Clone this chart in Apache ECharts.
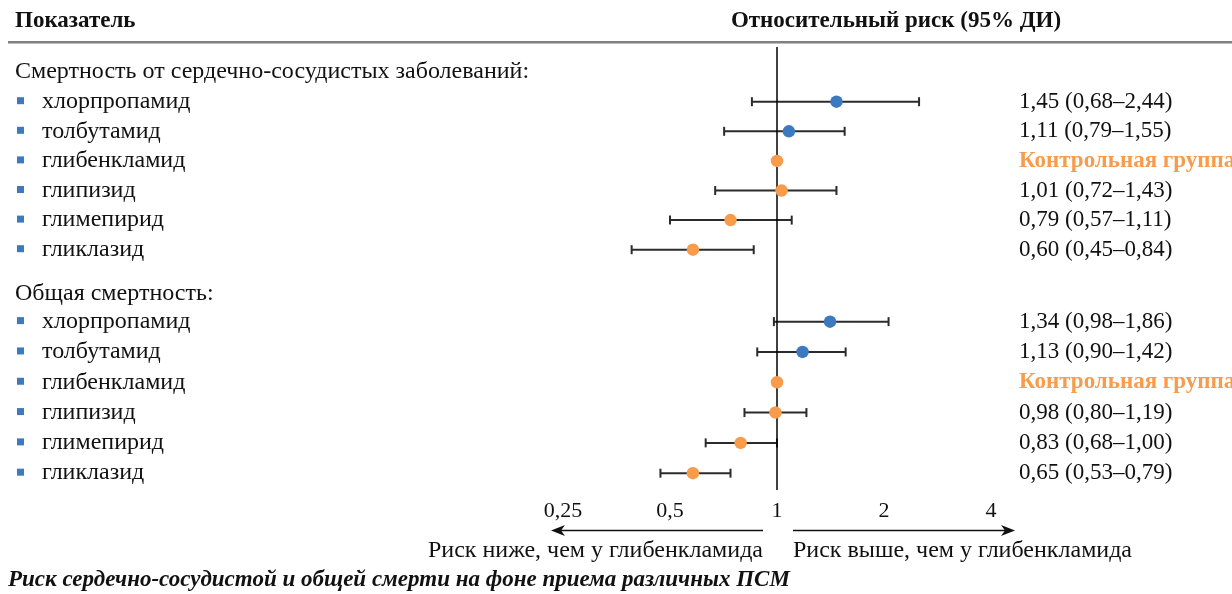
<!DOCTYPE html>
<html>
<head>
<meta charset="utf-8">
<script src="https://cdn.jsdelivr.net/npm/echarts@6/dist/echarts.min.js"></script>
<style>
  html, body { margin: 0; padding: 0; background: #ffffff; }
  #chart { width: 1232px; height: 594px; }
</style>
</head>
<body>
<div id="chart"></div>
<script>
// ---------- data ----------
const groupTitles = ['Смертность от сердечно-сосудистых заболеваний:', 'Общая смертность:'];
const drugs = ['хлорпропамид', 'толбутамид', 'глибенкламид', 'глипизид', 'глимепирид', 'гликлазид'];
const drugKind = ['old', 'old', 'ref', 'new', 'new', 'new'];

// values as plotted in the picture
const cvRR   = [1.47, 1.08, 1.00, 1.03, 0.74, 0.58];
const cvLow  = [0.85, 0.71, null, 0.67, 0.50, 0.39];
const cvHigh = [2.51, 1.55, null, 1.47, 1.10, 0.86];
const cvLabels = ['1,45 (0,68–2,44)', '1,11 (0,79–1,55)', 'Контрольная группа', '1,01 (0,72–1,43)', '0,79 (0,57–1,11)', '0,60 (0,45–0,84)'];

const allRR   = [1.41, 1.18, 1.00, 0.99, 0.79, 0.58];
const allLow  = [0.98, 0.88, null, 0.81, 0.63, 0.47];
const allHigh = [2.06, 1.56, null, 1.21, 1.00, 0.74];
const allLabels = ['1,34 (0,98–1,86)', '1,13 (0,90–1,42)', 'Контрольная группа', '0,98 (0,80–1,19)', '0,83 (0,68–1,00)', '0,65 (0,53–0,79)'];

const xTicks = [0.25, 0.5, 1, 2, 4];

// ---------- layout helpers ----------
const FONT = '"Liberation Serif", "DejaVu Serif", serif';
const BLUE = '#3C79BF';
const ORANGE = '#F89B4B';
const GROUP2_START = 7.43;
const GROUP2_STEP = 1.024;

function rowY(g, i) { return g === 0 ? i : GROUP2_START + i * GROUP2_STEP; }
function headerY(g) { return g === 0 ? -1.02 : GROUP2_START - 0.94; }

const groupsData = [
  { rr: cvRR, lo: cvLow, hi: cvHigh, lab: cvLabels },
  { rr: allRR, lo: allLow, hi: allHigh, lab: allLabels }
];

const dots = [], cis = [], rowsText = [], headers = [];
groupsData.forEach((gd, g) => {
  headers.push([1, headerY(g), groupTitles[g]]);
  drugs.forEach((d, i) => {
    const y = rowY(g, i);
    const col = drugKind[i] === 'old' ? BLUE : ORANGE;
    dots.push({ value: [gd.rr[i], y], itemStyle: { color: col, opacity: 1 } });
    if (gd.lo[i] != null) cis.push([gd.lo[i], gd.hi[i], y]);
    rowsText.push([1, y, d, gd.lab[i], drugKind[i] === 'ref' ? 1 : 0]);
  });
});

const chart = echarts.init(document.getElementById('chart'), null, { renderer: 'canvas' });

const option = {
  animation: false,
  backgroundColor: '#ffffff',
  grid: { left: 563, right: 241, top: 47, bottom: 104, containLabel: false },
  xAxis: {
    type: 'log', logBase: 2, min: xTicks[0], max: xTicks[xTicks.length - 1],
    splitNumber: 4,
    axisLine: { show: false }, axisTick: { show: false }, splitLine: { show: false },
    axisLabel: {
      show: true, margin: 10, fontFamily: FONT, fontSize: 22, color: '#111',
      formatter: v => String(+v.toFixed(4)).replace('.', ',')
    }
  },
  yAxis: {
    type: 'value', inverse: true, min: -1.848, max: 13.118, show: false
  },
  series: [
    {
      type: 'custom', name: 'ci', z: 3, clip: false,
      data: cis,
      renderItem: (params, api) => {
        const p1 = api.coord([api.value(0), api.value(2)]);
        const p2 = api.coord([api.value(1), api.value(2)]);
        const h = 4.5;
        const st = { stroke: '#2b2b2b', lineWidth: 2 };
        return {
          type: 'group',
          children: [
            { type: 'line', shape: { x1: p1[0], y1: p1[1], x2: p2[0], y2: p2[1] }, style: st },
            { type: 'line', shape: { x1: p1[0], y1: p1[1] - h, x2: p1[0], y2: p1[1] + h }, style: st },
            { type: 'line', shape: { x1: p2[0], y1: p2[1] - h, x2: p2[0], y2: p2[1] + h }, style: st }
          ]
        };
      }
    },
    {
      type: 'scatter', name: 'rr', z: 5,
      symbol: 'circle', symbolSize: 12.5,
      itemStyle: { opacity: 1 },
      data: dots,
      markLine: {
        silent: true, symbol: ['none', 'none'], animation: false,
        label: { show: false },
        lineStyle: { color: '#000', width: 1.5, type: 'solid' },
        data: [{ xAxis: 1 }]
      }
    },
    {
      type: 'custom', name: 'rowtext', z: 4, clip: false,
      data: rowsText,
      renderItem: (params, api) => {
        const p = api.coord([api.value(0), api.value(1)]);
        const y = p[1];
        const isRef = api.value(4) === 1;
        const row = rowsText[params.dataIndex];
        return {
          type: 'group',
          children: [
            { type: 'rect', shape: { x: 17, y: y - 4.5, width: 7, height: 7 }, style: { fill: BLUE } },
            { type: 'text', x: 42, y: y, style: { text: row[2], font: '24px ' + FONT, fill: '#111', textVerticalAlign: 'middle', textAlign: 'left' } },
            { type: 'text', x: 1019, y: y, style: {
                text: row[3],
                font: (isRef ? 'bold ' : '') + '23px ' + FONT,
                fill: isRef ? ORANGE : '#111', textVerticalAlign: 'middle', textAlign: 'left' } }
          ]
        };
      }
    },
    {
      type: 'custom', name: 'headers', z: 4, clip: false,
      data: headers,
      renderItem: (params, api) => {
        const p = api.coord([api.value(0), api.value(1)]);
        return {
          type: 'text', x: 15, y: p[1],
          style: { text: headers[params.dataIndex][2], font: '24px ' + FONT, fill: '#111', textVerticalAlign: 'middle', textAlign: 'left' }
        };
      }
    }
  ],
  graphic: [
    { type: 'text', x: 15, y: 21, style: { text: 'Показатель', font: 'bold 23px ' + FONT, fill: '#111', textAlign: 'left', textVerticalAlign: 'middle' } },
    { type: 'text', x: 896, y: 21, style: { text: 'Относительный риск (95% ДИ)', font: 'bold 23px ' + FONT, fill: '#111', textAlign: 'center', textVerticalAlign: 'middle' } },
    { type: 'line', shape: { x1: 8, y1: 42.3, x2: 1232, y2: 42.3 }, style: { stroke: '#808080', lineWidth: 2.5 } },
    // arrows
    { type: 'line', shape: { x1: 556, y1: 530.5, x2: 763, y2: 530.5 }, style: { stroke: '#111', lineWidth: 1.5 } },
    { type: 'polygon', shape: { points: [[551, 530.5], [565, 525], [561, 530.5], [565, 536]] }, style: { fill: '#111' } },
    { type: 'line', shape: { x1: 793, y1: 530.5, x2: 1010, y2: 530.5 }, style: { stroke: '#111', lineWidth: 1.5 } },
    { type: 'polygon', shape: { points: [[1015, 530.5], [1001, 525], [1005, 530.5], [1001, 536]] }, style: { fill: '#111' } },
    { type: 'text', x: 763, y: 551, style: { text: 'Риск ниже, чем у глибенкламида', font: '24px ' + FONT, fill: '#111', textAlign: 'right', textVerticalAlign: 'middle' } },
    { type: 'text', x: 793, y: 551, style: { text: 'Риск выше, чем у глибенкламида', font: '24px ' + FONT, fill: '#111', textAlign: 'left', textVerticalAlign: 'middle' } },
    { type: 'text', x: 8, y: 580, style: { text: 'Риск сердечно-сосудистой и общей смерти на фоне приема различных ПСМ', font: 'italic bold 23px ' + FONT, fill: '#111', textAlign: 'left', textVerticalAlign: 'middle' } }
  ]
};

chart.setOption(option);
</script>
</body>
</html>
